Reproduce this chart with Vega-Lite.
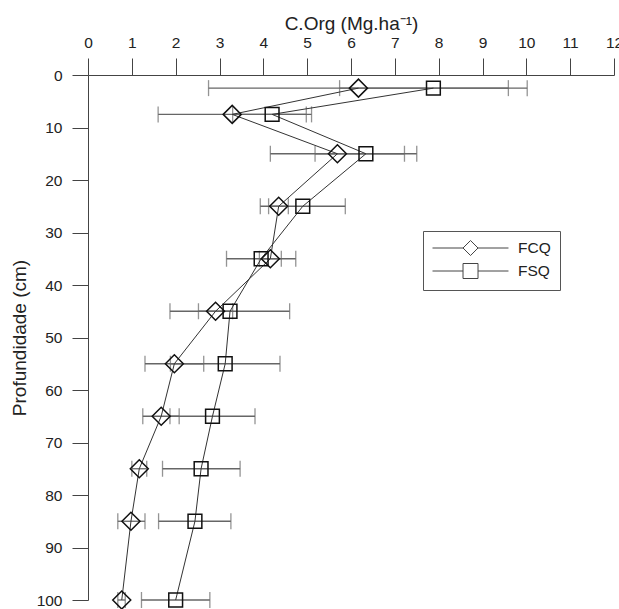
{
  "$schema": "https://vega.github.io/schema/vega-lite/v6.json",
  "width": 526,
  "height": 525,
  "autosize": {"type": "none"},
  "padding": {"left": 88, "top": 75, "right": 5, "bottom": 9},
  "background": "white",
  "config": {
    "view": {"stroke": null},
    "font": "Liberation Sans",
    "axis": {"grid": false, "labelFont": "Liberation Sans", "titleFont": "Liberation Sans", "titleFontWeight": "normal", "labelColor": "#222", "titleColor": "#222", "domainColor": "#444", "tickColor": "#444", "labelOverlap": false, "labelFlush": false, "labelBound": false}
  },
  "data": {
    "values": [
      {"serie": "FCQ", "depth": 2.5, "value": 6.17, "lo": 2.75, "hi": 9.59},
      {"serie": "FCQ", "depth": 7.5, "value": 3.29, "lo": 1.6, "hi": 4.98},
      {"serie": "FCQ", "depth": 15, "value": 5.69, "lo": 4.16, "hi": 7.22},
      {"serie": "FCQ", "depth": 25, "value": 4.35, "lo": 4.12, "hi": 4.57},
      {"serie": "FCQ", "depth": 35, "value": 4.16, "lo": 3.91, "hi": 4.41},
      {"serie": "FCQ", "depth": 45, "value": 2.91, "lo": 2.52, "hi": 3.3},
      {"serie": "FCQ", "depth": 55, "value": 1.97, "lo": 1.3, "hi": 2.64},
      {"serie": "FCQ", "depth": 65, "value": 1.67, "lo": 1.25, "hi": 2.08},
      {"serie": "FCQ", "depth": 75, "value": 1.17, "lo": 1.0, "hi": 1.34},
      {"serie": "FCQ", "depth": 85, "value": 0.98, "lo": 0.68, "hi": 1.3},
      {"serie": "FCQ", "depth": 100, "value": 0.77, "lo": 0.68, "hi": 0.85},
      {"serie": "FSQ", "depth": 2.5, "value": 7.88, "lo": 5.74, "hi": 10.02},
      {"serie": "FSQ", "depth": 7.5, "value": 4.2, "lo": 3.3, "hi": 5.1},
      {"serie": "FSQ", "depth": 15, "value": 6.34, "lo": 5.18, "hi": 7.5},
      {"serie": "FSQ", "depth": 25, "value": 4.9, "lo": 3.93, "hi": 5.87},
      {"serie": "FSQ", "depth": 35, "value": 3.95, "lo": 3.16, "hi": 4.74},
      {"serie": "FSQ", "depth": 45, "value": 3.24, "lo": 1.87, "hi": 4.6},
      {"serie": "FSQ", "depth": 55, "value": 3.13, "lo": 1.88, "hi": 4.38},
      {"serie": "FSQ", "depth": 65, "value": 2.84, "lo": 1.87, "hi": 3.81},
      {"serie": "FSQ", "depth": 75, "value": 2.58, "lo": 1.7, "hi": 3.47},
      {"serie": "FSQ", "depth": 85, "value": 2.44, "lo": 1.61, "hi": 3.26},
      {"serie": "FSQ", "depth": 100, "value": 2.0, "lo": 1.22, "hi": 2.78}
    ]
  },
  "resolve": {"scale": {"shape": "independent"}, "legend": {"shape": "independent"}},
  "layer": [
    {
      "mark": {"type": "rule", "color": "#666", "strokeWidth": 1.3},
      "encoding": {
        "x": {
          "field": "lo", "type": "quantitative", "title": "C.Org (Mg.ha⁻¹)",
          "scale": {"domain": [0, 12], "nice": false, "zero": false},
          "axis": {
            "orient": "top",
            "values": [0, 0.5, 1, 1.5, 2, 2.5, 3, 3.5, 4, 4.5, 5, 5.5, 6, 6.5, 7, 7.5, 8, 8.5, 9, 9.5, 10, 10.5, 11, 11.5, 12],
            "labelExpr": "datum.value % 1 === 0 ? datum.label : ''",
            "tickSize": {"condition": {"test": "datum.value % 1 === 0", "value": 17}, "value": 9},
            "labelPadding": 8,
            "labelFontSize": 15.5,
            "titleFontSize": 19,
            "titlePadding": 2
          }
        },
        "x2": {"field": "hi"},
        "y": {
          "field": "depth", "type": "quantitative", "title": "Profundidade (cm)",
          "scale": {"domain": [0, 100], "reverse": true, "nice": false},
          "axis": {
            "orient": "left",
            "values": [0, 5, 10, 15, 20, 25, 30, 35, 40, 45, 50, 55, 60, 65, 70, 75, 80, 85, 90, 95, 100],
            "labelExpr": "datum.value % 10 === 0 ? datum.label : ''",
            "tickSize": {"condition": {"test": "datum.value % 10 === 0", "value": 16}, "value": 8},
            "labelPadding": 10,
            "labelFontSize": 15.5,
            "titleFontSize": 19,
            "titlePadding": 7
          }
        }
      }
    },
    {
      "mark": {"type": "tick", "orient": "vertical", "color": "#666", "size": 16, "thickness": 1.3},
      "encoding": {
        "x": {"field": "lo", "type": "quantitative", "title": "C.Org (Mg.ha⁻¹)"},
        "y": {"field": "depth", "type": "quantitative", "title": "Profundidade (cm)"}
      }
    },
    {
      "mark": {"type": "tick", "orient": "vertical", "color": "#666", "size": 16, "thickness": 1.3},
      "encoding": {
        "x": {"field": "hi", "type": "quantitative", "title": "C.Org (Mg.ha⁻¹)"},
        "y": {"field": "depth", "type": "quantitative", "title": "Profundidade (cm)"}
      }
    },
    {
      "mark": {"type": "line", "color": "#333", "strokeWidth": 1},
      "encoding": {
        "x": {"field": "value", "type": "quantitative", "title": "C.Org (Mg.ha⁻¹)"},
        "y": {"field": "depth", "type": "quantitative", "title": "Profundidade (cm)"},
        "detail": {"field": "serie", "type": "nominal"},
        "order": {"field": "depth", "type": "quantitative"}
      }
    },
    {
      "mark": {"type": "point", "filled": false, "strokeWidth": 1.5, "opacity": 1, "color": "#111"},
      "encoding": {
        "x": {"field": "value", "type": "quantitative", "title": "C.Org (Mg.ha⁻¹)"},
        "y": {"field": "depth", "type": "quantitative", "title": "Profundidade (cm)"},
        "shape": {
          "field": "serie", "type": "nominal",
          "scale": {"domain": ["FCQ", "FSQ"], "range": ["diamond", "square"]},
          "legend": null
        },
        "size": {"condition": {"test": "datum.serie === 'FCQ'", "value": 324}, "value": 190}
      }
    },
    {
      "transform": [{"filter": "false"}],
      "mark": {"type": "point", "filled": false, "strokeWidth": 1, "opacity": 1, "color": "#444", "size": 225},
      "encoding": {
        "x": {"field": "value", "type": "quantitative", "title": "C.Org (Mg.ha⁻¹)"},
        "y": {"field": "depth", "type": "quantitative", "title": "Profundidade (cm)"},
        "shape": {
          "field": "serie", "type": "nominal",
          "scale": {
            "domain": ["FCQ", "FSQ"],
            "range": [
              "M-1,0H3.07M5.07,0H9.13M3.07,0L4.07,-1L5.07,0L4.07,1Z",
              "M-1,0H3.07M5.07,0H9.13M3.07,-1H5.07V1H3.07Z"
            ]
          },
          "legend": {
            "orient": "none",
            "legendX": 335,
            "legendY": 156,
            "title": null,
            "strokeColor": "#555",
            "padding": 9,
            "labelFont": "Liberation Sans",
            "labelFontSize": 15.5,
            "labelColor": "#222",
            "labelOffset": 70,
            "symbolSize": 225,
            "symbolStrokeWidth": 1,
            "symbolStrokeColor": "#444",
            "symbolFillColor": "transparent",
            "rowPadding": 3
          }
        }
      }
    }
  ]
}
